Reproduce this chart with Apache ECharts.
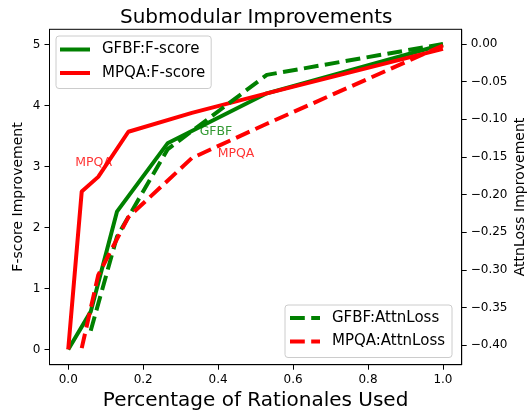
<!DOCTYPE html>
<html>
<head>
<meta charset="utf-8">
<script src="https://cdn.jsdelivr.net/npm/echarts@6/dist/echarts.min.js"></script>
<style>
  html, body { margin: 0; padding: 0; background: #fff; }
  #chart { width: 528px; height: 412px; }
</style>
</head>
<body>
<div id="chart"></div>
<script>
// x positions (fraction of rationales used)
const gfbfX = [0, 0.06, 0.13, 0.265, 0.53, 1.0];
const mpqaX = [0, 0.036, 0.08, 0.1605, 0.33, 0.53, 1.0];

// left axis: F-score improvement
const gfbfFscore = [0, 0.62, 2.26, 3.38, 4.2, 5.0];
const mpqaFscore = [0, 2.59, 2.83, 3.57, 3.88, 4.2, 4.93];

// right axis: AttnLoss improvement (starts at the second x)
const gfbfAttn = [-0.381, -0.256, -0.14, -0.041, 0.0];
const mpqaAttn = [-0.404, -0.307, -0.23, -0.1515, -0.106, -0.002];

const xTicks = [0, 0.2, 0.4, 0.6, 0.8, 1.0];
const leftTicks = [0, 1, 2, 3, 4, 5];
const rightTicks = [0, -0.05, -0.1, -0.15, -0.2, -0.25, -0.3, -0.35, -0.4];

// text notes placed on the plot (x, F-score value, text)
const notes = [
  [0.02, 3.0, 'MPQA', 'red'],
  [0.352, 3.5, 'GFBF', 'green'],
  [0.4, 3.15, 'MPQA', 'red']
];

function pairs(xs, ys) {
  let out = [];
  for (let i = 0; i < ys.length; i++) {
    out.push([xs[i], ys[i]]);
  }
  return out;
}

const font = 'DejaVu Sans';
const dash = [14.8, 6.4];
// legend handles: 30x4 bar, solid or two dashes
const solidIcon = 'path://M0,0H30V4H0Z';
const dashIcon = 'path://M0,0H14.8V4H0Z M21.2,0H30V4H21.2Z';

let chart = echarts.init(document.getElementById('chart'), null, { renderer: 'canvas' });

let seriesData = [];
seriesData.push({
  name: 'GFBF:F-score', type: 'line', yAxisIndex: 0, symbol: 'none',
  lineStyle: { color: 'green', width: 4 }, itemStyle: { color: 'green' },
  data: pairs(gfbfX, gfbfFscore)
});
seriesData.push({
  name: 'MPQA:F-score', type: 'line', yAxisIndex: 0, symbol: 'none',
  lineStyle: { color: 'red', width: 4 }, itemStyle: { color: 'red' },
  data: pairs(mpqaX, mpqaFscore)
});
seriesData.push({
  name: 'GFBF:AttnLoss', type: 'line', yAxisIndex: 1, symbol: 'none',
  lineStyle: { color: 'green', width: 4, type: dash }, itemStyle: { color: 'green' },
  data: pairs(gfbfX.slice(1), gfbfAttn)
});
seriesData.push({
  name: 'MPQA:AttnLoss', type: 'line', yAxisIndex: 1, symbol: 'none',
  lineStyle: { color: 'red', width: 4, type: dash }, itemStyle: { color: 'red' },
  data: pairs(mpqaX.slice(1), mpqaAttn)
});
seriesData.push({
  name: 'notes', type: 'scatter', yAxisIndex: 0, symbolSize: 1,
  itemStyle: { color: 'rgba(0,0,0,0)' },
  silent: true,
  data: notes.map(n => ({
    value: [n[0], n[1]],
    label: {
      show: true, formatter: n[2], color: n[3], position: [0, 0],
      align: 'left', verticalAlign: 'bottom', offset: [0, 3],
      fontFamily: font, fontSize: 12.5
    }
  }))
});

const legendBase = {
  orient: 'vertical',
  itemWidth: 30,
  itemHeight: 4,
  itemGap: 8.5,
  backgroundColor: 'rgba(255,255,255,0.8)',
  borderColor: '#cccccc',
  borderWidth: 1,
  borderRadius: 3,
  textStyle: { fontFamily: font, fontSize: 15, color: '#000', padding: [0, 0, 0, 7] }
};

let option = {
  animation: false,
  backgroundColor: '#fff',
  title: {
    text: 'Submodular Improvements',
    left: 115,
    top: 3,
    textStyle: { fontFamily: font, fontSize: 20, fontWeight: 'normal', color: '#000' }
  },
  grid: {
    left: 49.5, right: 66.3, top: 29.3, bottom: 47.3,
    containLabel: false, outerBoundsMode: 'none',
    show: true, borderColor: '#000', borderWidth: 1
  },
  legend: [
    Object.assign({}, legendBase, {
      data: [
        { name: 'GFBF:F-score', icon: solidIcon },
        { name: 'MPQA:F-score', icon: solidIcon }
      ],
      left: 56, top: 36, padding: [6, 6, 8, 4]
    }),
    Object.assign({}, legendBase, {
      data: [
        { name: 'GFBF:AttnLoss', icon: dashIcon },
        { name: 'MPQA:AttnLoss', icon: dashIcon }
      ],
      left: 285, top: 305, padding: [5.5, 7, 8.5, 5]
    })
  ],
  xAxis: {
    type: 'value', min: -0.05, max: 1.05,
    name: 'Percentage of Rationales Used',
    nameLocation: 'middle', nameGap: 26,
    nameTextStyle: { fontFamily: font, fontSize: 20, color: '#000' },
    axisLine: { show: true, onZero: false, lineStyle: { color: '#000', width: 1 } },
    axisTick: { show: true, customValues: xTicks, length: 5, lineStyle: { color: '#000' } },
    axisLabel: {
      customValues: xTicks, margin: 9,
      fontFamily: font, fontSize: 12, color: '#000',
      formatter: v => v.toFixed(1)
    },
    splitLine: { show: false }
  },
  yAxis: [
    {
      type: 'value', min: -0.25, max: 5.25, position: 'left',
      name: 'F-score Improvement',
      nameLocation: 'middle', nameGap: 24.5, nameRotate: 90, nameMoveOverlap: false,
      nameTextStyle: { fontFamily: font, fontSize: 14, color: '#000' },
      axisLine: { show: true, onZero: false, lineStyle: { color: '#000', width: 1 } },
      axisTick: { show: true, customValues: leftTicks, length: 5, lineStyle: { color: '#000' } },
      axisLabel: {
        customValues: leftTicks, margin: 9,
        fontFamily: font, fontSize: 12, color: '#000',
        formatter: v => String(Math.round(v))
      },
      splitLine: { show: false }
    },
    {
      type: 'value', min: -0.426, max: 0.0195, position: 'right',
      name: 'AttnLoss Improvement',
      nameLocation: 'middle', nameGap: 51.5, nameRotate: 90, nameMoveOverlap: false,
      nameTextStyle: { fontFamily: font, fontSize: 14, color: '#000' },
      axisLine: { show: true, onZero: false, lineStyle: { color: '#000', width: 1 } },
      axisTick: { show: true, customValues: rightTicks, length: 5, lineStyle: { color: '#000' } },
      axisLabel: {
        customValues: rightTicks, margin: 9,
        fontFamily: font, fontSize: 12, color: '#000',
        formatter: v => (v < -1e-9 ? '\u2212' : '') + Math.abs(v).toFixed(2)
      },
      splitLine: { show: false }
    }
  ],
  series: seriesData
};

chart.setOption(option);
</script>
</body>
</html>
